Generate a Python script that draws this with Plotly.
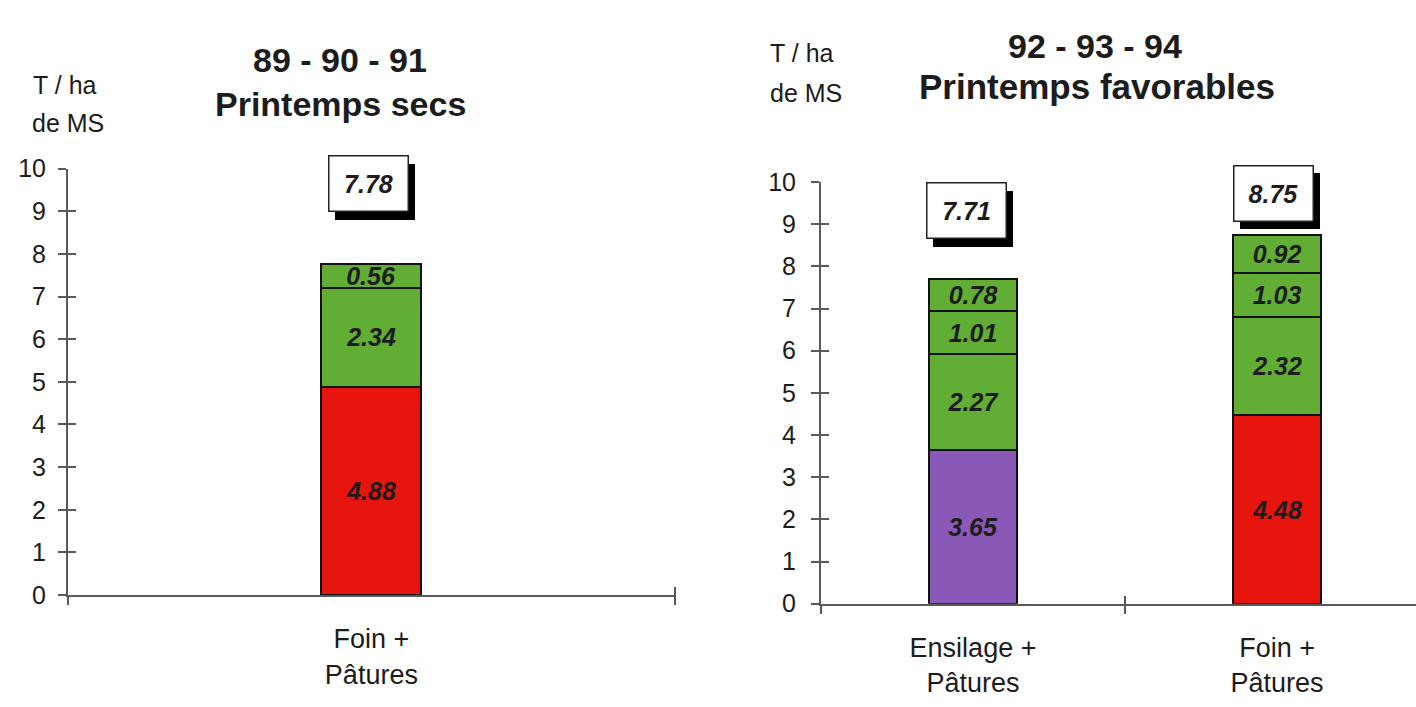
import plotly.graph_objects as go

# Dry-matter yields (T/ha), stacked from the bottom segment upwards
cat_left = ["Foin +<br>Pâtures"]
base_left = [4.88]
g1_left = [2.34]
g2_left = [0.56]

cat_right = ["Ensilage +<br>Pâtures", "Foin +<br>Pâtures"]
base_right = [3.65, 4.48]
g1_right = [2.27, 2.32]
g2_right = [1.01, 1.03]
g3_right = [0.78, 0.92]

y_ticks = list(range(0, 11))

W, H = 1416, 707
FONT = "Liberation Sans"
INK = "#1c1c1c"
AXIS = "#5a5a5a"
RED = "#e8140e"
GREEN = "#62ae35"
PURPLE = "#8a58b6"

base_colors_left = [RED]
base_colors_right = [PURPLE, RED]

seg_font = dict(family=FONT, size=25, color=INK, weight="bold", style="italic")

fig = go.Figure()


def add_stack(cats, layers, colors, xa, ya, width):
    for vals, col in zip(layers, colors):
        fig.add_trace(go.Bar(
            x=cats, y=vals, xaxis=xa, yaxis=ya, width=width,
            marker=dict(color=col, line=dict(color="#111", width=2)),
            text=[f"{v:.2f}" for v in vals],
            textposition="inside", insidetextanchor="middle", textangle=0,
            constraintext="none", textfont=seg_font,
            showlegend=False, hoverinfo="skip", cliponaxis=False,
        ))


add_stack(cat_left, [base_left, g1_left, g2_left],
          [base_colors_left, GREEN, GREEN], "x", "y", 0.165)
add_stack(cat_right, [base_right, g1_right, g2_right, g3_right],
          [base_colors_right, GREEN, GREEN, GREEN], "x2", "y2", 0.29)

# empty traces carrying the overlay axes used for the inner half of crossing ticks
for xa, ya in (("x3", "y3"), ("x4", "y4")):
    fig.add_trace(go.Scatter(x=[None], y=[None], xaxis=xa, yaxis=ya,
                             showlegend=False, hoverinfo="skip"))

tot_left = [sum(v) for v in zip(base_left, g1_left, g2_left)]
tot_right = [sum(v) for v in zip(base_right, g1_right, g2_right, g3_right)]

# total boxes with a drop shadow
box_specs = [
    ("x", "y", cat_left[0], tot_left[0], 9.64, -3),
    ("x2", "y2", cat_right[0], tot_right[0], 9.32, -7),
    ("x2", "y2", cat_right[1], tot_right[1], 9.73, -4),
]
annotations = []
for xr, yr, cat, tot, ypos, dx in box_specs:
    common = dict(xref=xr, yref=yr, x=cat, y=ypos, showarrow=False,
                  width=78, height=54, borderpad=0)
    box_font = dict(family=FONT, size=25, weight="bold", style="italic")
    annotations.append(dict(common, text="&nbsp;", xshift=dx + 7, yshift=-8,
                            bgcolor="#000", bordercolor="#000", borderwidth=1,
                            font=dict(box_font, color="#000")))
    annotations.append(dict(common, text=f"{tot:.2f}", xshift=dx,
                            bgcolor="#fff", bordercolor="#222", borderwidth=1.5,
                            font=dict(box_font, color=INK)))


def paper_text(text, px, py, size, bold=False, anchor="center"):
    annotations.append(dict(
        xref="paper", yref="paper", x=px / W, y=1 - py / H,
        xanchor=anchor, yanchor="middle", showarrow=False, text=text,
        font=dict(family=FONT, size=size, color=INK,
                  weight="bold" if bold else "normal")))


paper_text("89 - 90 - 91", 340, 48, 34, bold=True)
paper_text("Printemps secs", 340, 94, 34, bold=True)
paper_text("92 - 93 - 94", 1095, 33, 34, bold=True)
paper_text("Printemps favorables", 1097, 76, 35, bold=True)
paper_text("T / ha", 31, 74, 25, anchor="left")
paper_text("de MS", 30, 113, 25, anchor="left")
paper_text("T / ha", 768, 41, 25, anchor="left")
paper_text("de MS", 768, 82, 25, anchor="left")

line = dict(showline=True, linecolor=AXIS, linewidth=2, showgrid=False,
            zeroline=False, fixedrange=True)
tick = dict(ticks="outside", ticklen=8, tickwidth=1.5, tickcolor=AXIS)
inner = dict(ticks="inside", ticklen=8, tickwidth=1.5, tickcolor=AXIS,
             showticklabels=False, showline=False, showgrid=False,
             zeroline=False, fixedrange=True)

y_common = dict(range=[0, 10], tickvals=y_ticks, **line, **tick,
                tickfont=dict(family=FONT, size=25, color=INK))
x_common = dict(type="category", tickson="boundaries", **line, **tick,
                tickfont=dict(family=FONT, size=27, color=INK),
                ticklabelstandoff=19)

fig.update_layout(
    width=W, height=H,
    margin=dict(l=0, r=0, t=0, b=0),
    paper_bgcolor="white", plot_bgcolor="rgba(0,0,0,0)",
    barmode="stack", bargap=0,
    xaxis=dict(domain=[68 / W, 676 / W], anchor="y", range=[-0.5, 0.502], **x_common),
    yaxis=dict(domain=[(H - 605) / H, (H - 161) / H], anchor="x",
               ticklabelstandoff=7, **y_common),
    xaxis2=dict(domain=[821 / W, 1.0], anchor="y2", range=[-0.5, 1.457], **x_common),
    yaxis2=dict(domain=[(H - 614) / H, (H - 175) / H], anchor="x2",
                ticklabelstandoff=10, **y_common),
    xaxis3=dict(overlaying="x", anchor="y", range=[-0.5, 0.502], tickvals=[0.5], **inner),
    yaxis3=dict(overlaying="y", anchor="x", range=[0, 10], tickvals=y_ticks, **inner),
    xaxis4=dict(overlaying="x2", anchor="y2", range=[-0.5, 1.457], tickvals=[0.5], **inner),
    yaxis4=dict(overlaying="y2", anchor="x2", range=[0, 10], tickvals=y_ticks, **inner),
    annotations=annotations,
    showlegend=False,
)

fig.write_html("out.html")
